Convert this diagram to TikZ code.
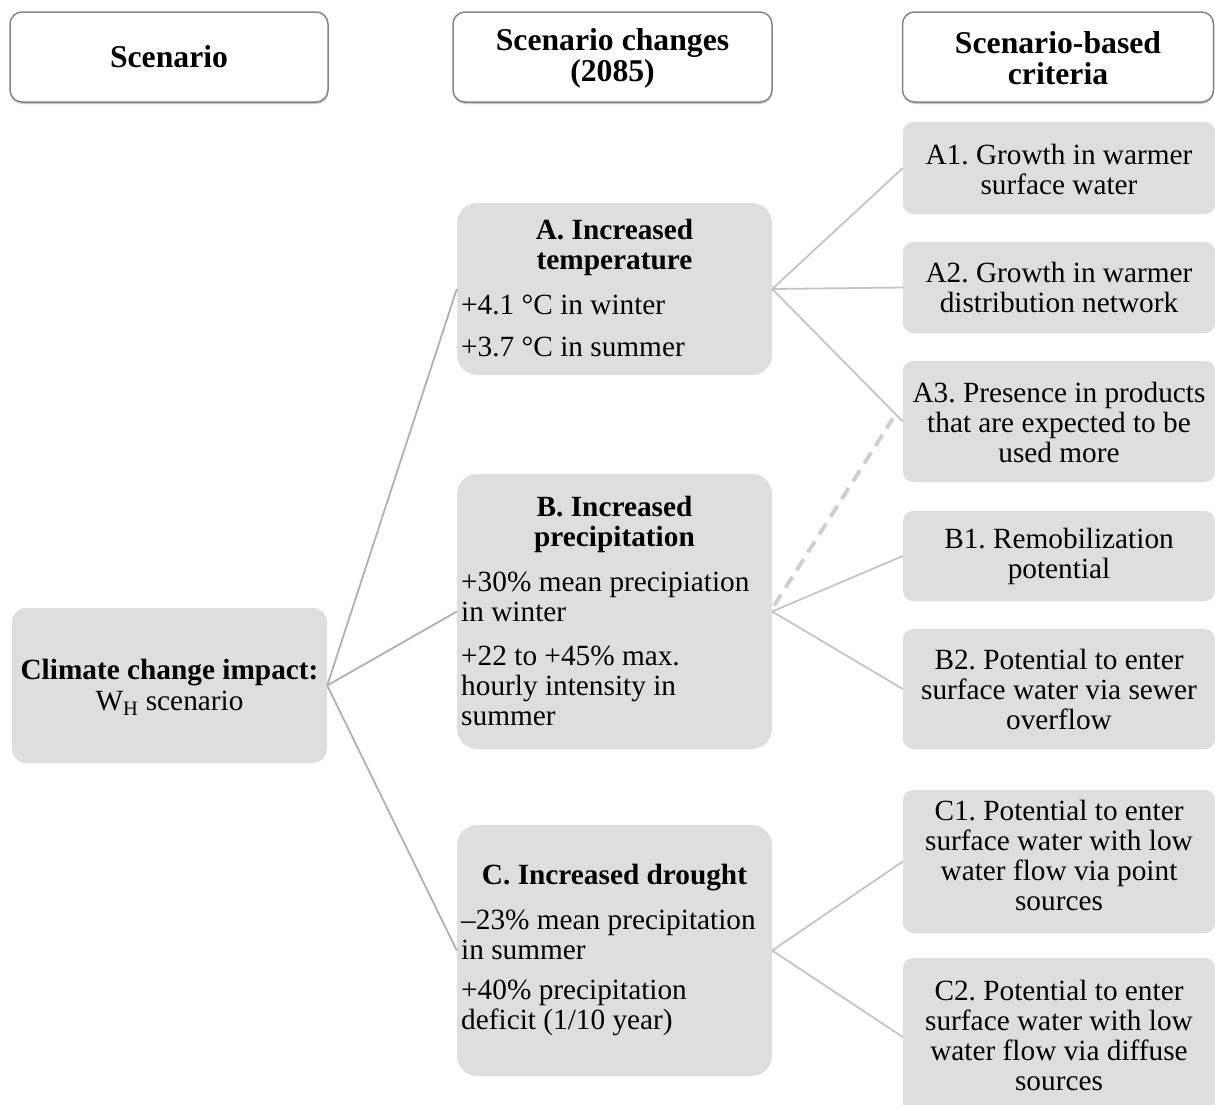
\documentclass[tikz,border=0pt]{standalone}
\usepackage{fontspec}
\setmainfont{Liberation Serif}
\usetikzlibrary{shadows}
\definecolor{boxgray}{HTML}{DEDEDE}
\definecolor{linegray}{HTML}{C4C4C4}
\definecolor{linedark}{HTML}{B0B0B0}
\definecolor{dashgray}{HTML}{CFCFCF}
\definecolor{hdrborder}{HTML}{858585}
\frenchspacing
\begin{document}
\begin{tikzpicture}[x=1pt,y=-1pt,
  txt/.style={font=\fontsize{29.3}{30}\selectfont, inner sep=0pt},
  btxt/.style={font=\fontsize{29.3}{30}\selectfont\bfseries, inner sep=0pt, align=center},
  htxt/.style={font=\fontsize{31.7}{31}\selectfont\bfseries, inner sep=0pt, align=center},
  hdr/.style={rectangle, draw=hdrborder, line width=1.5pt, fill=white, rounded corners=12pt, inner sep=0pt,
    drop shadow={shadow xshift=0.5pt, shadow yshift=-2pt, fill=black!35, opacity=0.6}},
  gbox/.style={rectangle, fill=boxgray, rounded corners=20pt, inner sep=0pt, minimum width=315pt},
  cbox/.style={rectangle, fill=boxgray, rounded corners=10pt, inner sep=0pt, minimum width=312pt},
  link/.style={draw=linegray, line width=1.8pt},
  linkd/.style={draw=linedark, line width=1.8pt},
  dlink/.style={draw=dashgray, line width=4pt, dash pattern=on 13pt off 8pt}]
\useasboundingbox (0,0) rectangle (1215,1104);

% headers
\node[hdr, minimum width=318pt, minimum height=90pt] (h1) at (169,57) {};
\node[hdr, minimum width=319pt, minimum height=90pt] (h2) at (612.5,57) {};
\node[hdr, minimum width=311pt, minimum height=90pt] (h3) at (1058,57) {};
\node[htxt] (h1t) at (h1.center) {Scenario};
\node[htxt] (h2t) at (612.5,58) {Scenario changes\\(2085)};
\node[htxt] (h3t) at (1058,58) {Scenario-based\\criteria};

% boxes
\node[gbox, minimum height=155pt, rounded corners=14pt] (clim) at (169.5,685.5) {};
\node[gbox, minimum height=172pt] (A) at (614.5,289) {};
\node[gbox, minimum height=275pt] (B) at (614.5,611.5) {};
\node[gbox, minimum height=251pt] (C) at (614.5,950.5) {};
\node[cbox, minimum height=92pt] (A1) at (1059,168) {};
\node[cbox, minimum height=91pt] (A2) at (1059,287.5) {};
\node[cbox, minimum height=121pt] (A3) at (1059,421.5) {};
\node[cbox, minimum height=90pt] (B1) at (1059,556) {};
\node[cbox, minimum height=120pt] (B2) at (1059,689) {};
\node[cbox, minimum height=143pt] (C1) at (1059,861.5) {};
\node[cbox, minimum height=158pt] (C2) at (1059,1037) {};

% connectors
\draw[linkd] (clim.east) -- (A.west);
\draw[linkd] (clim.east) -- (B.west);
\draw[linkd] (clim.east) -- (C.west);
\draw[link] (A.east) -- (A1.west);
\draw[link] (A.east) -- (A2.west);
\draw[link] (A.east) -- (A3.west);
\draw[link] (B.east) -- (B1.west);
\draw[link] (B.east) -- (B2.west);
\draw[link] (C.east) -- (C1.west);
\draw[link] (C.east) -- (C2.west);
\coordinate (dS) at ([xshift=2pt,yshift=6pt]B.east);
\coordinate (dE) at ([xshift=-10pt,yshift=3pt]A3.west);
\draw[dlink] (dS) -- (dE);

% texts
\node[btxt] (climt1) at (169.5,673) {Climate change impact:};
\node[txt] (climt2) at (169.5,703) {W\textsubscript{H} scenario};

\node[btxt] (At) at (614.5,247) {A. Increased\\temperature};
\node[txt, anchor=west] (Ai1) at (461,305) {+4.1 °C in winter};
\node[txt, anchor=west] (Ai2) at (461,347) {+3.7 °C in summer};

\node[btxt] (Bt) at (614.5,524.5) {B. Increased\\precipitation};
\node[txt, anchor=west, align=left] (Bi1) at (461,597) {+30\% mean precipiation\\in winter};
\node[txt, anchor=west, align=left] (Bi2) at (461,686) {+22 to +45\% max.\\hourly intensity in\\summer};

\node[btxt] (Ct) at (614.5,878) {C. Increased drought};
\node[txt, anchor=west, align=left] (Ci1) at (461,935) {–23\% mean precipitation\\in summer};
\node[txt, anchor=west, align=left] (Ci2) at (461,1008) {+40\% precipitation\\deficit (1/10 year)};

\node[txt, align=center] (A1t) at (1059,169.5) {A1. Growth in warmer\\surface water};
\node[txt, align=center] (A2t) at (1059,287.5) {A2. Growth in warmer\\distribution network};
\node[txt, align=center] (A3t) at (1059,422) {A3. Presence in products\\that are expected to be\\used more};
\node[txt, align=center] (B1t) at (1059,556) {B1. Remobilization\\potential};
\node[txt, align=center] (B2t) at (1059,689.5) {B2. Potential to enter\\surface water via sewer\\overflow};
\node[txt, align=center] (C1t) at (1059,855.5) {C1. Potential to enter\\surface water with low\\water flow via point\\sources};
\node[txt, align=center] (C2t) at (1059,1035) {C2. Potential to enter\\surface water with low\\water flow via diffuse\\sources};
\end{tikzpicture}
\end{document}
